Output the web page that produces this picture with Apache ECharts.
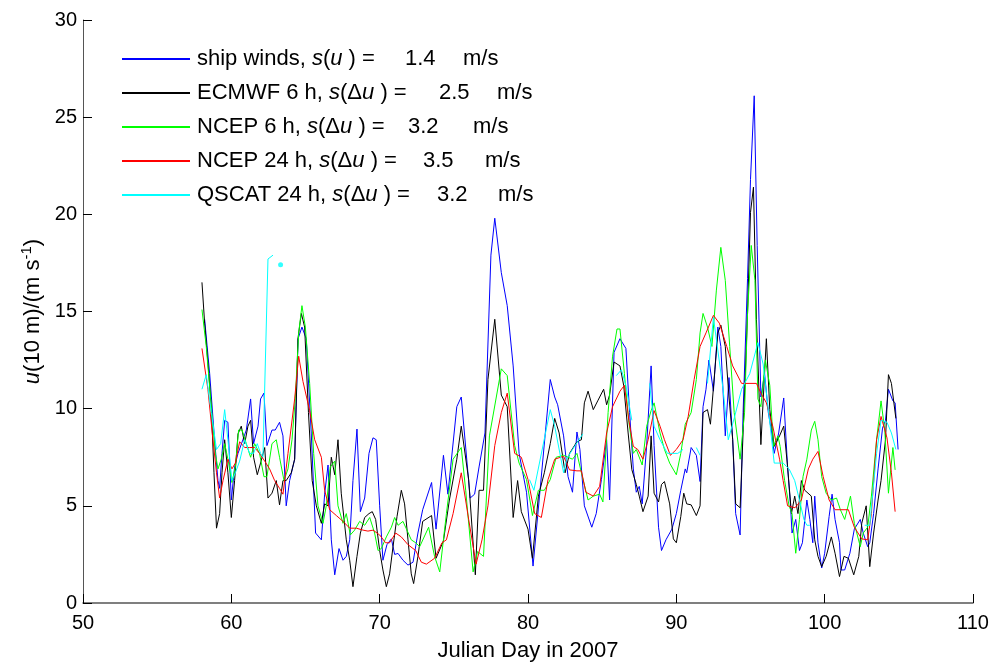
<!DOCTYPE html>
<html>
<head>
<meta charset="utf-8">
<script src="https://cdn.jsdelivr.net/npm/echarts@6/dist/echarts.min.js"></script>
<style>
  html, body { margin: 0; padding: 0; background: #fff; }
  #chart { width: 999px; height: 663px; }
</style>
</head>
<body>
<div id="chart"></div>
<script>
// [Julian day, u(10 m) in m/s]; null = gap
const shipWinds = [
  [58.2,14.6],[58.54,11.8],[58.87,8.4],[59.1,6.3],[59.21,5.9],[59.37,7.7],[59.55,9.4],[59.77,9.3],[60.0,5.3],[60.22,7.0],
  [60.45,7.7],[60.78,8.4],[61.01,8.9],[61.3,10.5],[61.5,8.2],[61.8,9.1],[61.97,10.5],[62.2,10.8],[62.4,8.1],[62.74,8.9],
  [62.96,8.9],[63.25,9.3],[63.48,8.6],[63.7,5.0],[63.93,6.3],[64.27,7.4],[64.5,13.6],[64.76,14.2],[65.05,13.6],[65.39,8.7],
  [65.68,3.6],[66.07,3.25],[66.29,5.6],[66.52,7.1],[66.74,3.25],[66.97,1.45],[67.26,2.8],[67.53,2.2],[67.75,2.4],[67.98,3.25],
  [68.2,6.3],[68.47,8.95],[68.7,4.7],[68.99,5.4],[69.28,7.7],[69.55,8.5],[69.77,8.4],[70.0,5.0],[70.22,2.2],[70.49,3.0],
  [70.79,3.3],[71.01,2.5],[71.24,2.55],[71.57,2.2],[71.91,1.95],[72.25,2.1],[72.58,3.6],[72.9,4.8],[73.5,6.2],[73.8,3.8],
  [74.3,7.6],[74.6,5.6],[75.2,10.1],[75.5,10.6],[76.1,5.4],[76.4,5.6],[76.7,7.0],[77.1,8.75],[77.5,17.9],[77.76,19.8],
  [78.2,17.0],[78.6,15.3],[79.0,12.2],[79.4,7.7],[79.9,5.7],[80.34,1.9],[80.8,5.7],[81.5,11.5],[81.8,10.6],[82.0,10.2],
  [82.4,8.6],[82.7,6.5],[83.0,5.7],[83.3,8.8],[83.5,7.9],[83.8,5.0],[84.3,3.9],[84.6,4.6],[84.95,6.35],[85.3,8.4],
  [85.5,5.3],[85.8,12.9],[86.2,13.6],[86.6,13.1],[86.85,9.8],[87.1,6.9],[87.3,5.7],[87.5,6.0],[87.7,5.1],[88.0,8.1],
  [88.3,12.2],[88.5,8.1],[88.8,3.9],[89.0,2.7],[89.3,3.25],[89.7,3.8],[90.0,4.6],[90.3,5.8],[90.6,6.9],[90.7,6.7],
  [91.0,8.0],[91.35,7.6],[91.6,6.25],[91.8,10.1],[92.0,11.0],[92.2,12.5],[92.5,10.9],[92.8,14.2],[93.0,13.2],[93.3,8.6],
  [93.55,11.6],[93.8,8.4],[94.0,4.6],[94.3,3.5],[94.5,9.8],[94.8,16.7],[95.0,21.8],[95.25,26.1],[95.45,18.4],[95.7,10.6],
  [95.95,11.8],[96.2,9.8],[96.4,8.9],[96.6,7.7],[96.9,8.75],[97.24,10.55],[97.5,7.0],[97.7,5.0],[97.8,3.6],[98.05,4.3],
  [98.3,2.7],[98.5,3.1],[98.8,5.3],[99.0,4.3],[99.2,3.1],[99.33,5.5],[99.55,3.1],[99.8,1.8],[100.0,2.56],[100.3,4.45],
  [100.5,5.6],[100.7,4.3],[101.0,3.1],[101.1,1.7],[101.35,1.7],[101.7,2.56],[102.0,3.8],[102.4,4.3],[102.6,3.6],[102.9,2.9],
  [103.04,3.1],[103.3,4.6],[103.6,6.9],[103.9,9.0],[104.1,9.4],[104.3,11.0],[104.6,10.4],[104.75,10.3],[104.95,7.9]
];
const ecmwf6h = [
  [58.02,16.5],[58.2,14.4],[58.42,12.4],[58.65,10.1],[58.83,6.7],[59.0,3.85],[59.21,4.6],[59.37,6.7],[59.55,8.4],[59.77,6.7],
  [60.0,4.4],[60.22,6.3],[60.45,8.7],[60.67,9.1],[60.9,8.2],[61.12,9.1],[61.3,9.4],[61.5,7.5],[61.75,6.6],[61.97,7.2],
  [62.25,8.0],[62.47,5.4],[62.74,5.65],[63.03,6.3],[63.25,5.05],[63.48,6.3],[63.7,6.3],[64.04,6.7],[64.27,7.4],[64.49,13.6],
  [64.72,14.9],[64.94,14.2],[65.2,9.8],[65.45,6.3],[65.73,5.0],[66.07,4.1],[66.29,5.1],[66.52,5.0],[66.74,7.5],[66.97,6.6],
  [67.19,8.4],[67.41,5.65],[67.75,3.25],[67.98,2.2],[68.2,0.84],[68.47,2.4],[68.7,3.6],[68.99,4.4],[69.28,4.6],[69.5,4.7],
  [69.73,4.3],[70.0,2.7],[70.22,1.7],[70.45,0.84],[70.67,1.5],[70.9,2.9],[71.17,4.45],[71.46,5.8],[71.68,5.1],[71.91,3.25],
  [72.13,1.5],[72.29,1.0],[72.58,2.4],[72.9,4.2],[73.5,4.5],[73.8,2.3],[74.3,3.2],[74.7,5.3],[75.2,7.4],[75.5,9.1],
  [76.0,6.35],[76.45,1.45],[76.7,5.8],[77.0,5.8],[77.3,11.5],[77.76,14.6],[78.2,10.7],[78.6,10.1],[79.0,4.4],[79.3,6.3],
  [79.55,4.7],[80.0,3.8],[80.3,2.3],[80.7,5.5],[81.1,6.7],[81.5,8.2],[81.8,9.5],[82.1,8.75],[82.5,6.7],[82.8,7.7],
  [83.3,8.3],[83.6,8.4],[83.8,10.3],[84.05,10.9],[84.4,9.95],[84.7,10.4],[85.1,11.0],[85.3,10.2],[85.5,10.7],[85.8,12.4],
  [86.2,12.2],[86.45,11.2],[86.75,8.75],[87.0,6.86],[87.3,6.1],[87.5,5.5],[87.75,4.7],[88.1,5.5],[88.3,8.6],[88.5,5.65],
  [88.8,5.2],[89.0,6.1],[89.2,6.25],[89.55,5.1],[89.8,3.3],[90.0,3.1],[90.3,4.45],[90.5,5.65],[90.7,5.1],[91.0,5.05],
  [91.35,4.5],[91.6,5.0],[91.8,9.8],[92.1,9.95],[92.3,9.2],[92.6,12.0],[92.8,13.9],[93.0,14.3],[93.3,13.2],[93.55,10.6],
  [93.8,8.4],[94.0,5.1],[94.3,4.9],[94.5,8.75],[94.8,14.9],[95.0,20.1],[95.2,21.4],[95.4,14.6],[95.7,8.15],[96.07,13.6],
  [96.3,9.95],[96.6,8.06],[96.96,8.6],[97.24,9.1],[97.5,7.0],[97.76,4.6],[97.98,5.5],[98.2,4.6],[98.43,6.3],[98.66,5.8],
  [99.1,5.5],[99.33,3.25],[99.55,2.4],[99.8,1.87],[100.1,2.4],[100.45,3.4],[100.7,2.56],[101.0,1.36],[101.3,2.4],[101.6,2.3],
  [101.96,1.45],[102.3,2.4],[102.5,4.1],[102.8,5.0],[103.04,1.87],[103.3,3.6],[103.6,5.3],[103.8,6.3],[104.1,8.4],[104.3,11.75],
  [104.5,11.3],[104.8,9.5]
];
const ncep6h = [
  [58.02,15.1],[58.31,13.2],[58.65,10.1],[58.92,7.7],[59.1,6.9],[59.32,7.4],[59.55,8.2],[59.77,7.4],[60.04,6.2],[60.27,7.0],
  [60.49,8.9],[60.72,8.9],[61.01,8.2],[61.3,7.5],[61.57,8.2],[61.9,7.7],[62.2,6.5],[62.4,6.5],[62.74,8.2],[63.03,8.4],
  [63.25,7.5],[63.55,6.3],[63.82,6.9],[64.09,8.4],[64.31,10.5],[64.54,13.9],[64.76,15.3],[64.99,14.2],[65.28,11.3],[65.55,7.7],
  [65.84,5.0],[66.18,4.1],[66.4,5.0],[66.67,7.0],[66.97,7.3],[67.19,5.0],[67.53,4.1],[67.75,4.6],[68.02,3.5],[68.31,3.75],
  [68.65,4.2],[68.99,4.0],[69.33,4.4],[69.66,3.6],[69.89,2.7],[70.11,2.8],[70.45,3.4],[70.79,3.9],[71.01,4.4],[71.24,4.0],
  [71.57,4.2],[71.84,3.75],[72.13,3.25],[72.43,3.1],[72.7,2.9],[73.3,3.9],[73.7,2.4],[74.05,1.6],[74.5,4.6],[74.95,7.4],
  [75.5,8.0],[75.8,5.8],[76.3,1.6],[76.6,2.65],[77.0,2.4],[77.4,8.6],[78.2,12.05],[78.6,11.7],[79.1,8.1],[79.4,7.2],
  [79.9,6.35],[80.3,4.5],[80.7,5.8],[81.1,5.8],[81.5,6.35],[81.9,7.5],[82.4,7.6],[82.7,7.5],[83.0,7.4],[83.3,7.7],
  [83.6,6.7],[84.05,5.3],[84.4,5.5],[84.83,5.6],[85.05,5.2],[85.4,9.8],[85.7,12.7],[86.0,14.1],[86.2,14.1],[86.5,11.8],
  [86.8,9.3],[87.1,7.7],[87.3,7.9],[87.7,7.1],[88.0,9.1],[88.3,9.9],[88.5,10.3],[88.9,8.75],[89.2,7.9],[89.55,7.2],
  [90.0,6.6],[90.3,7.7],[90.6,9.2],[91.0,9.8],[91.35,11.5],[91.6,13.9],[91.8,14.9],[92.1,14.2],[92.4,13.2],[92.7,16.1],
  [93.0,18.3],[93.3,16.6],[93.6,13.2],[93.9,9.8],[94.3,7.4],[94.6,9.8],[94.8,14.9],[95.05,18.4],[95.3,16.6],[95.5,10.5],
  [95.7,10.1],[96.0,12.5],[96.3,11.2],[96.55,8.06],[96.85,8.6],[97.0,8.05],[97.3,6.3],[97.6,5.0],[97.8,4.6],[98.05,2.56],
  [98.3,4.3],[98.54,6.5],[98.8,7.4],[99.1,8.9],[99.33,9.35],[99.55,8.4],[99.8,6.5],[100.1,5.65],[100.45,5.3],[100.8,5.4],
  [101.06,4.8],[101.35,4.3],[101.74,5.5],[102.0,4.1],[102.4,2.9],[102.6,3.6],[102.9,3.9],[103.15,5.5],[103.5,8.4],[103.8,10.4],
  [104.05,8.9],[104.3,5.65],[104.6,8.0],[104.75,6.85]
];
const ncep24h = [
  [58.02,13.1],[58.42,11.0],[58.76,8.4],[59.0,6.7],[59.21,5.4],[59.44,6.3],[59.77,7.4],[60.04,6.9],[60.27,7.2],[60.56,8.3],
  [60.9,8.0],[61.23,8.0],[61.57,8.0],[61.9,7.7],[62.25,7.3],[62.58,6.9],[62.92,6.3],[63.25,5.9],[63.48,5.6],[63.82,7.7],
  [64.27,10.5],[64.54,12.7],[64.83,11.4],[65.28,9.9],[65.62,8.4],[66.07,7.5],[66.29,5.8],[66.63,4.8],[67.08,4.5],[67.53,4.2],
  [67.98,3.85],[68.43,3.85],[68.88,3.75],[69.21,3.7],[69.55,3.75],[70.0,3.5],[70.4,3.1],[70.67,3.1],[71.08,3.6],[71.46,3.4],
  [71.91,3.0],[72.43,2.7],[72.81,2.1],[73.15,2.0],[73.7,2.3],[74.2,3.1],[74.5,3.25],[74.95,4.6],[75.5,6.7],[76.0,4.3],
  [76.5,2.0],[76.9,3.25],[77.3,5.0],[77.76,8.1],[78.2,9.8],[78.6,10.8],[79.1,7.7],[79.55,7.5],[80.0,6.35],[80.45,4.6],
  [80.9,4.4],[81.35,6.35],[81.8,7.4],[82.4,7.55],[82.8,6.85],[83.3,6.8],[83.6,6.8],[83.9,5.7],[84.4,5.5],[84.83,6.0],
  [85.3,8.75],[85.7,10.1],[86.2,10.9],[86.5,11.2],[86.8,9.4],[87.1,8.06],[87.4,7.9],[87.75,7.4],[88.1,8.4],[88.5,9.9],
  [88.9,9.1],[89.2,8.4],[89.6,7.6],[90.0,7.9],[90.45,8.4],[90.8,9.6],[91.2,11.5],[91.6,13.2],[92.0,13.9],[92.5,14.8],
  [92.9,14.4],[93.4,13.2],[93.8,12.2],[94.4,11.3],[94.9,11.3],[95.4,11.3],[95.7,10.8],[96.07,10.3],[96.5,9.1],[96.96,7.4],
  [97.2,6.3],[97.5,5.0],[98.0,4.9],[98.43,5.3],[98.9,6.9],[99.2,7.4],[99.55,7.8],[99.9,6.5],[100.3,5.3],[100.7,4.8],
  [101.1,4.8],[101.6,4.8],[102.0,3.9],[102.5,3.3],[102.9,3.25],[103.15,4.6],[103.5,8.4],[103.8,9.6],[104.2,8.5],[104.5,6.7],
  [104.75,4.7]
];
const qscat24h = [
  [58.02,11.0],[58.31,11.75],[58.65,9.8],[59.0,7.9],[59.28,8.2],[59.55,9.95],[59.77,8.4],[60.04,6.3],[60.27,6.7],[60.56,7.3],
  [60.9,8.4],[61.23,7.7],[61.5,7.7],[61.75,8.2],[61.97,7.7],[62.13,7.5],[62.47,17.7],[62.81,17.9],[63.0,null],
  [80.1,6.35],[80.4,5.8],[81.5,9.95],[81.8,9.1],[82.4,6.7],[82.6,7.4],[83.0,7.9],[83.7,8.7],[84.5,null],
  [85.95,11.7],[86.3,12.0],[86.6,11.2],[87.0,9.4],[87.5,null],
  [88.2,11.3],[88.5,9.1],[88.9,8.4],[89.4,7.7],[90.1,7.7],[90.45,7.9],[90.9,null],
  [91.35,8.0],[91.6,7.6],[91.8,null],
  [92.1,11.3],[92.5,14.7],[93.15,11.0],[93.5,8.4],[93.9,9.5],[94.4,11.0],[94.95,11.8],[95.5,13.4],[95.85,12.3],[96.3,9.3],
  [96.6,7.2],[97.2,7.2],[97.6,6.9],[97.98,6.3],[98.3,5.3],[98.6,4.3],[98.8,4.0],[99.0,4.0],[100.0,null],
  [102.7,4.0],[103.04,4.0],[103.5,7.7],[103.8,9.4],[104.2,9.3],[104.5,8.75],[104.8,7.9]
];
// lone QSCAT sample drawn as a dot
const qscatDot = [[63.32,17.4]];

const seriesNames = ['ship winds', 'ECMWF 6 h', 'NCEP 6 h', 'NCEP 24 h', 'QSCAT 24 h'];
const spreadLabels = ['s(u)', 's(\u0394u)', 's(\u0394u)', 's(\u0394u)', 's(\u0394u)'];
const spreads = ['1.4', '2.5', '3.2', '3.5', '3.2'];
const colors = ['#0000ff', '#000000', '#00ff00', '#ff0000', '#00ffff'];
const seriesData = [shipWinds, ecmwf6h, ncep6h, ncep24h, qscat24h];

const FONT = "'Liberation Sans', Arial, sans-serif";
const ink = '#000';
const LEG_SIZE = 22;

// legend layout: where the text, numbers and units start on each row (px)
const LEG_LEFT = 122, LEG_ICON = 68, LEG_TEXT_X = 197;
const LEG_TEXT_BASE = LEG_LEFT + LEG_ICON + 5;
const numX = [405, 439, 408, 423, 437];
const unitX = [463, 497, 473, 485, 498];

const mctx = document.createElement('canvas').getContext('2d');
function textW(str, italic) {
  mctx.font = (italic ? 'italic ' : '') + LEG_SIZE + 'px ' + FONT;
  return mctx.measureText(str).width;
}

const legendRich = {
  t: { fontFamily: FONT, fontSize: LEG_SIZE, color: ink, lineHeight: 24 },
  i: { fontFamily: FONT, fontSize: LEG_SIZE, color: ink, lineHeight: 24, fontStyle: 'italic' },
  lead: { fontSize: LEG_SIZE, lineHeight: 24, width: LEG_TEXT_X - LEG_TEXT_BASE },
};
const legendText = {};
seriesNames.forEach((name, k) => {
  const delta = spreadLabels[k].includes('\u0394');
  // prefix parts: [style, text]
  const parts = [['t', name + ', '], ['i', 's'], ['t', delta ? '(\u0394' : '('], ['i', 'u'], ['t', ' ) =']];
  const prefixW = parts.reduce((w, p) => w + textW(p[1], p[0] === 'i'), 0);
  const gap1 = Math.max(4, numX[k] - LEG_TEXT_X - prefixW);
  const gap2 = Math.max(4, unitX[k] - numX[k] - textW(spreads[k], false));
  legendRich['ga' + k] = { fontSize: LEG_SIZE, lineHeight: 24, width: gap1 };
  legendRich['gb' + k] = { fontSize: LEG_SIZE, lineHeight: 24, width: gap2 };
  legendText[name] = '{lead| }' + parts.map((p) => `{${p[0]}|${p[1]}}`).join('') +
    `{ga${k}| }{t|${spreads[k]}}{gb${k}| }{t|m/s}`;
});

const chart = echarts.init(document.getElementById('chart'), null, { renderer: 'canvas' });

const series = seriesNames.map((name, k) => ({
  name,
  type: 'line',
  data: seriesData[k],
  color: colors[k],
  symbol: 'none',
  connectNulls: false,
  itemStyle: { color: colors[k] },
  lineStyle: { width: 1, color: colors[k] },
  z: 2 + k,
}));
series.push({
  name: 'QSCAT dot',
  type: 'scatter',
  data: qscatDot,
  symbol: 'circle',
  symbolSize: 5,
  itemStyle: { color: '#00ffff' },
  z: 7,
});

const option = {
  animation: false,
  backgroundColor: '#fff',
  textStyle: { fontFamily: FONT, color: ink },
  grid: { left: 83, right: 26, top: 20, bottom: 60, containLabel: false, outerBoundsMode: 'none' },
  legend: {
    data: seriesNames.map((name, k) => ({
      name,
      // 68 x 2 bar, same aspect as the icon box so it fills it
      icon: 'path://M0,0H68V2H0Z',
      itemStyle: { color: colors[k], borderWidth: 0, opacity: 1 },
    })),
    orient: 'vertical',
    left: LEG_LEFT,
    top: 47,
    padding: 0,
    itemWidth: LEG_ICON,
    itemHeight: 2,
    itemGap: 10,
    formatter: (name) => legendText[name],
    textStyle: {
      fontFamily: FONT,
      fontSize: LEG_SIZE,
      color: ink,
      lineHeight: 24,
      rich: legendRich,
    },
  },
  xAxis: {
    type: 'value',
    min: 50,
    max: 110,
    interval: 10,
    name: 'Julian Day in 2007',
    nameLocation: 'middle',
    nameGap: 37,
    nameTextStyle: { fontFamily: FONT, fontSize: 22, color: ink },
    axisLine: { lineStyle: { color: '#555', width: 1.5 } },
    axisTick: { inside: true, length: 9, lineStyle: { color: '#000' } },
    axisLabel: { fontFamily: FONT, fontSize: 20, color: ink, margin: 10 },
    splitLine: { show: false },
  },
  yAxis: {
    type: 'value',
    min: 0,
    max: 30,
    interval: 5,
    name: '{i|u}{t|(10 m)/(m s}{sup|-1}{t|)}',
    nameLocation: 'middle',
    nameGap: 35,
    nameRotate: 90,
    nameTextStyle: {
      fontFamily: FONT,
      fontSize: 22,
      color: ink,
      rich: {
        t: { fontFamily: FONT, fontSize: 22, color: ink, lineHeight: 26 },
        i: { fontFamily: FONT, fontSize: 22, color: ink, lineHeight: 26, fontStyle: 'italic' },
        sup: { fontFamily: FONT, fontSize: 15, color: ink, lineHeight: 26, verticalAlign: 'top' },
      },
    },
    axisLine: { show: true, lineStyle: { color: '#555', width: 1 } },
    axisTick: { show: true, inside: true, length: 9, lineStyle: { color: '#000' } },
    axisLabel: { fontFamily: FONT, fontSize: 20, color: ink, margin: 6 },
    splitLine: { show: false },
  },
  series,
};

chart.setOption(option);
</script>
</body>
</html>
